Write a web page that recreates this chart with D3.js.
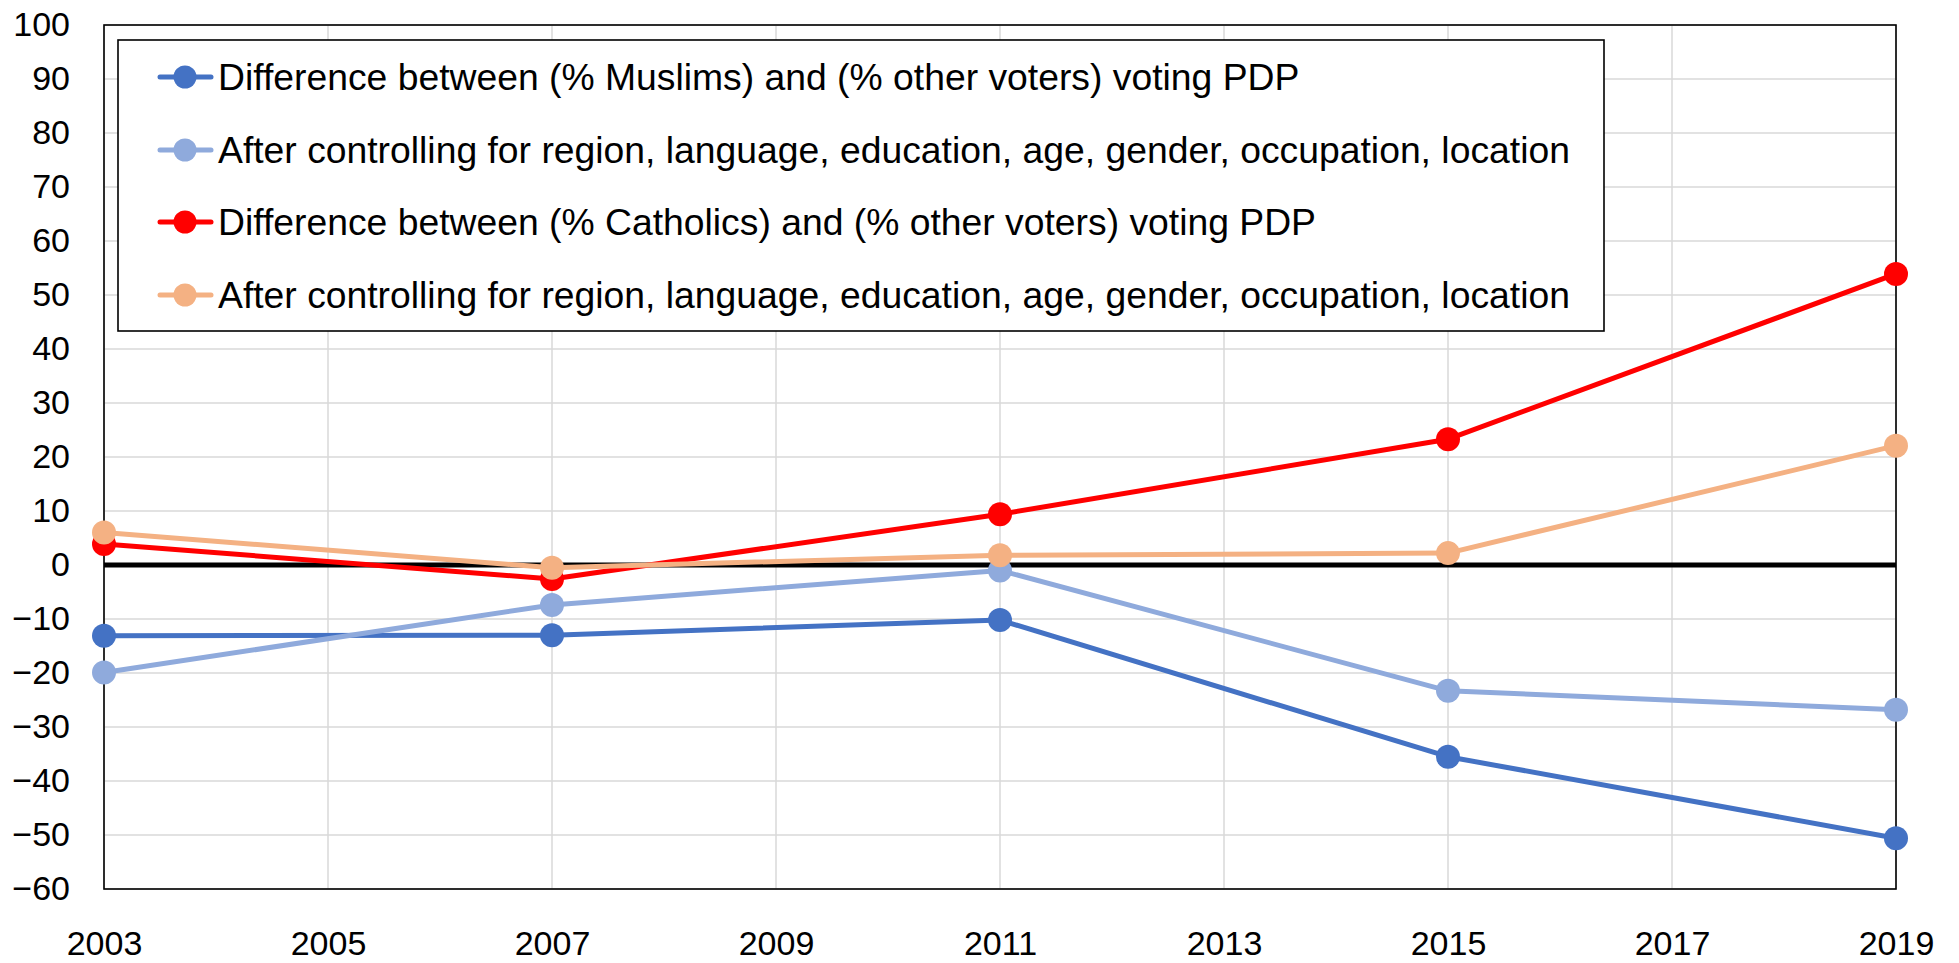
<!DOCTYPE html>
<html>
<head>
<meta charset="utf-8">
<script src="https://cdn.jsdelivr.net/npm/d3@7/dist/d3.min.js"></script>
<style>
  html, body { margin: 0; padding: 0; background: #fff; }
  svg { display: block; font-family: "Liberation Sans", Arial, sans-serif; }
</style>
</head>
<body>
<svg id="chart" width="1959" height="963"></svg>
<script>
const years = [2003, 2007, 2011, 2015, 2019];
const muslimsDiff = [-13.1, -13.0, -10.2, -35.5, -50.6];
const muslimsControlled = [-19.9, -7.4, -1.0, -23.3, -26.8];
const catholicsDiff = [3.9, -2.6, 9.4, 23.3, 53.9];
const catholicsControlled = [6.0, -0.5, 1.8, 2.2, 22.1];
const seriesNames = [
  "Difference between (% Muslims) and (% other voters) voting PDP",
  "After controlling for region, language, education, age, gender, occupation, location",
  "Difference between (% Catholics) and (% other voters) voting PDP",
  "After controlling for region, language, education, age, gender, occupation, location"
];
const seriesColors = ["#4472C4", "#8FAADC", "#FF0000", "#F4B183"];
const xTicks = [2003, 2005, 2007, 2009, 2011, 2013, 2015, 2017, 2019];
const yTicks = [-60, -50, -40, -30, -20, -10, 0, 10, 20, 30, 40, 50, 60, 70, 80, 90, 100];

const series = [muslimsDiff, muslimsControlled, catholicsDiff, catholicsControlled];

const svg = d3.select("#chart");
const L = 104, R = 1896, T = 25, B = 889;
const x = d3.scaleLinear().domain([2003, 2019]).range([L, R]);
const y = d3.scaleLinear().domain([-60, 100]).range([B, T]);

// gridlines
const grid = svg.append("g");
grid.selectAll("line.h").data(yTicks).join("line")
  .attr("x1", L).attr("x2", R)
  .attr("y1", d => y(d)).attr("y2", d => y(d))
  .attr("stroke", "#d9d9d9").attr("stroke-width", 1.5);
grid.selectAll("line.v").data(xTicks).join("line")
  .attr("y1", T).attr("y2", B)
  .attr("x1", d => x(d)).attr("x2", d => x(d))
  .attr("stroke", "#d9d9d9").attr("stroke-width", 1.5);

// plot border
svg.append("rect").attr("x", L).attr("y", T).attr("width", R - L).attr("height", B - T)
  .attr("fill", "none").attr("stroke", "#000").attr("stroke-width", 1.6);

// zero line
svg.append("line").attr("x1", L).attr("x2", R).attr("y1", y(0)).attr("y2", y(0))
  .attr("stroke", "#000").attr("stroke-width", 5);

// axes labels
const yAxis = d3.axisLeft(y).tickValues(yTicks).tickSize(0).tickPadding(34);
const gy = svg.append("g").attr("transform", `translate(${L},0)`).call(yAxis);
gy.select(".domain").remove();
gy.selectAll("text").attr("font-size", 34).attr("fill", "#000")
  .attr("font-family", "Liberation Sans, Arial, sans-serif");

const xAxis = d3.axisBottom(x).tickValues(xTicks).tickFormat(d3.format("d")).tickSize(0).tickPadding(42);
const gx = svg.append("g").attr("transform", `translate(0,${B})`).call(xAxis);
gx.select(".domain").remove();
gx.selectAll("text").attr("font-size", 34).attr("fill", "#000")
  .attr("font-family", "Liberation Sans, Arial, sans-serif");

// series
const line = d3.line().x((d, i) => x(years[i])).y(d => y(d));
series.forEach((s, k) => {
  const g = svg.append("g");
  g.append("path").datum(s).attr("d", line).attr("fill", "none")
    .attr("stroke", seriesColors[k]).attr("stroke-width", 5).attr("stroke-linejoin", "round");
  g.selectAll("circle").data(s).join("circle")
    .attr("cx", (d, i) => x(years[i])).attr("cy", d => y(d)).attr("r", 12)
    .attr("fill", seriesColors[k]);
});

// legend
const lg = svg.append("g");
lg.append("rect").attr("x", 118).attr("y", 40).attr("width", 1486).attr("height", 291)
  .attr("fill", "#fff").attr("stroke", "#000").attr("stroke-width", 1.6);
const rowY = [77, 150, 222, 295];
seriesNames.forEach((name, k) => {
  const ry = rowY[k];
  lg.append("line").attr("x1", 160).attr("x2", 211).attr("y1", ry).attr("y2", ry)
    .attr("stroke", seriesColors[k]).attr("stroke-width", 5).attr("stroke-linecap", "round");
  lg.append("circle").attr("cx", 185).attr("cy", ry).attr("r", 11.5).attr("fill", seriesColors[k]);
  lg.append("text").attr("x", 218).attr("y", ry).attr("dy", "0.35em")
    .attr("font-size", 37.3).attr("fill", "#000").text(name);
});
</script>
</body>
</html>
